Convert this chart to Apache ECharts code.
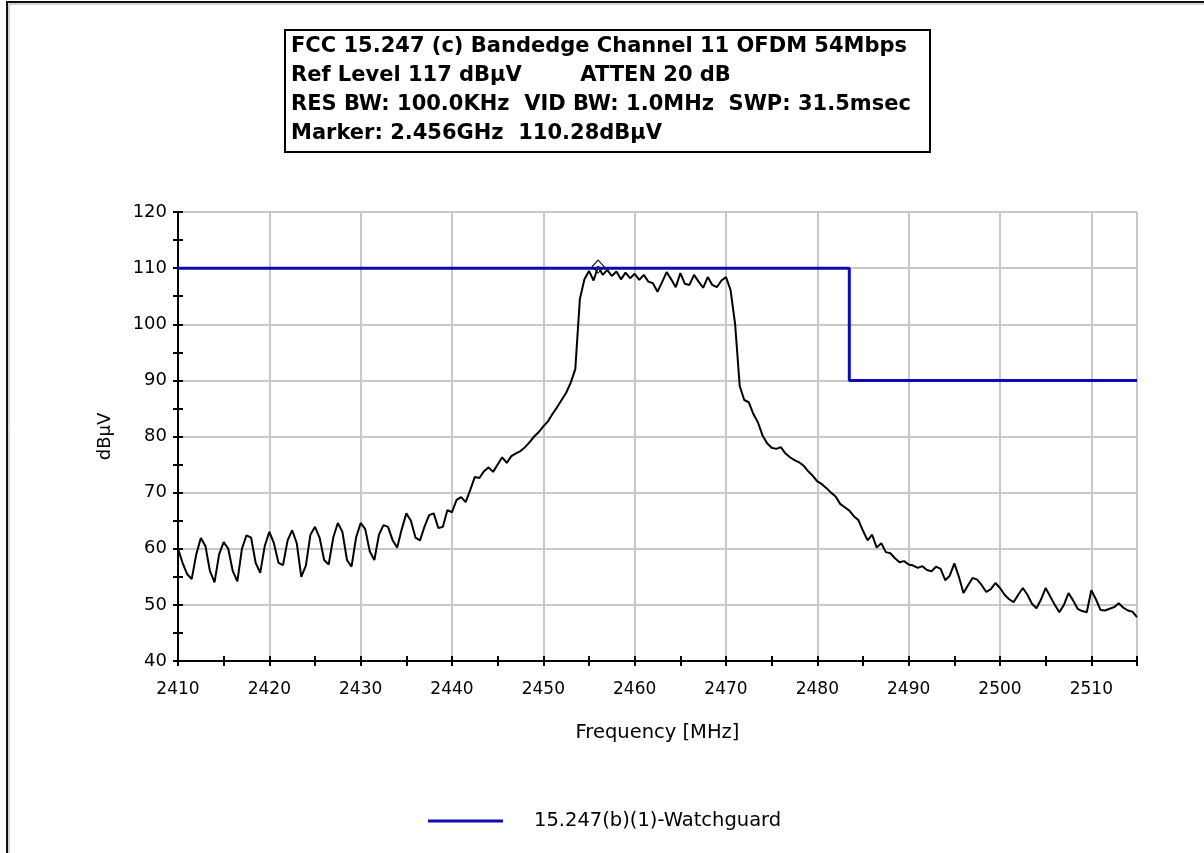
<!DOCTYPE html>
<html><head><meta charset="utf-8">
<script src="https://cdn.jsdelivr.net/npm/echarts@6/dist/echarts.min.js"></script>
<style>html,body{margin:0;padding:0;background:#fff}#c{width:1204px;height:853px}</style>
</head><body><div id="c"></div>
<script>
// ---- data ----
const TITLE_LINES = [
  'FCC 15.247 (c) Bandedge Channel 11 OFDM 54Mbps',
  'Ref Level 117 dB\u03bcV        ATTEN 20 dB',
  'RES BW: 100.0KHz  VID BW: 1.0MHz  SWP: 31.5msec',
  'Marker: 2.456GHz  110.28dB\u03bcV'
];
const X_NAME = 'Frequency [MHz]';
const Y_NAME = 'dB\u03bcV';
const X_MIN = 2410, X_MAX = 2515;
const Y_MIN = 40, Y_MAX = 120;
// sweep: start frequency and step (MHz) of the measured trace
const FREQ_START = 2410, FREQ_STEP = 0.5;
const TRACE_DBUV = [
  60.0, 57.5, 55.5, 54.6, 59.0, 61.9, 60.5, 56.0, 54.0, 59.0,
  61.2, 60.0, 56.0, 54.2, 60.0, 62.4, 62.0, 57.5, 55.7, 60.5,
  63.0, 61.0, 57.5, 57.1, 61.5, 63.3, 61.0, 55.0, 57.0, 62.5,
  63.9, 62.0, 58.0, 57.2, 62.0, 64.6, 63.0, 58.0, 56.8, 62.0,
  64.6, 63.5, 59.5, 58.0, 62.5, 64.2, 63.9, 61.5, 60.2, 63.5,
  66.3, 65.0, 62.0, 61.5, 64.0, 66.0, 66.3, 63.7, 63.9, 66.9,
  66.5, 68.7, 69.2, 68.3, 70.5, 72.8, 72.6, 73.8, 74.5, 73.7,
  75.0, 76.3, 75.3, 76.5, 77.0, 77.4, 78.1, 79.0, 80.0, 80.8,
  81.8, 82.7, 84.0, 85.2, 86.5, 87.8, 89.6, 92.0, 104.5, 108.0,
  109.5, 107.8, 110.3, 108.8, 109.7, 108.6, 109.4, 108.0, 109.2, 108.2,
  109.0, 107.9, 108.8, 107.6, 107.3, 105.8, 107.5, 109.3, 108.0, 106.6,
  109.1, 107.2, 107.0, 108.8, 107.6, 106.5, 108.4, 107.0, 106.6, 107.8,
  108.4, 106.1, 100.0, 89.0, 86.5, 86.1, 84.0, 82.5, 80.2, 78.8,
  78.0, 77.8, 78.1, 77.0, 76.3, 75.8, 75.4, 74.8, 73.8, 73.0,
  72.0, 71.5, 70.8, 70.0, 69.3, 68.0, 67.4, 66.8, 65.8, 65.1,
  63.2, 61.5, 62.5, 60.2, 61.0, 59.4, 59.2, 58.3, 57.6, 57.8,
  57.2, 57.0, 56.6, 56.9, 56.2, 56.0, 56.8, 56.4, 54.4, 55.2,
  57.4, 55.0, 52.1, 53.5, 54.8, 54.5, 53.5, 52.3, 52.8, 53.9,
  53.0, 51.8, 51.0, 50.5, 51.8, 53.0, 51.8, 50.2, 49.4, 51.0,
  53.0, 51.5, 50.0, 48.7, 50.0, 52.1, 50.8, 49.3, 48.9, 48.7,
  52.6, 51.0, 49.1, 49.0, 49.3, 49.6, 50.3, 49.5, 49.0, 48.8,
  47.8
];
const LIMIT_NAME = '15.247(b)(1)-Watchguard';
const LIMIT_FREQ = [2410, 2483.5, 2483.5, 2515];
const LIMIT_DBUV = [110, 110, 90, 90];
const MARKER_FREQ = 2456, MARKER_DBUV = 110.28;

// ---- build ----
const traceData = TRACE_DBUV.map((v, i) => [FREQ_START + i * FREQ_STEP, v]);
const limitData = LIMIT_FREQ.map((f, i) => [f, LIMIT_DBUV[i]]);
const FONT = '"DejaVu Sans", sans-serif';
const LIMIT_COLOR = '#0c0cb0';

function tickAxis(min, max, inside) {
  return {
    type: 'value', min: min, max: max, interval: 5,
    axisLine: { show: false }, axisLabel: { show: false }, splitLine: { show: false },
    axisTick: { show: true, inside: inside, length: 5, lineStyle: { color: '#000', width: 2 } }
  };
}

const chart = echarts.init(document.getElementById('c'), null, { renderer: 'canvas' });
chart.setOption({
  animation: false,
  backgroundColor: '#fff',
  grid: { left: 178, right: 67, top: 212, bottom: 192, show: true, borderColor: '#000', borderWidth: 1, backgroundColor: '#fff' },
  xAxis: [
    {
      type: 'value', min: X_MIN, max: X_MAX, interval: 10, position: 'bottom',
      axisLine: { lineStyle: { color: '#000', width: 2 } },
      axisTick: { show: false },
      axisLabel: { color: '#000', fontFamily: FONT, fontSize: 17, margin: 20, showMaxLabel: false,
                   formatter: v => String(v) },
      splitLine: { lineStyle: { color: '#c8c8c8', width: 2 } },
      name: X_NAME, nameLocation: 'middle', nameGap: 62,
      nameTextStyle: { color: '#000', fontFamily: FONT, fontSize: 19.5 }
    },
    Object.assign(tickAxis(X_MIN, X_MAX, false), { position: 'bottom' }),
    Object.assign(tickAxis(X_MIN, X_MAX, true), { position: 'bottom' })
  ],
  yAxis: [
    {
      type: 'value', min: Y_MIN, max: Y_MAX, interval: 10, position: 'left',
      axisLine: { show: true, lineStyle: { color: '#000', width: 2 } },
      axisTick: { show: false },
      axisLabel: { color: '#000', fontFamily: FONT, fontSize: 18, margin: 11 },
      splitLine: { lineStyle: { color: '#c8c8c8', width: 2 } },
      name: Y_NAME, nameLocation: 'middle', nameGap: 64, nameRotate: 90,
      nameTextStyle: { color: '#000', fontFamily: FONT, fontSize: 18 }
    },
    Object.assign(tickAxis(Y_MIN, Y_MAX, false), { position: 'left' }),
    Object.assign(tickAxis(Y_MIN, Y_MAX, true), { position: 'left' })
  ],
  legend: {
    data: [{ name: LIMIT_NAME, icon: 'rect' }], left: 423, top: 806, itemWidth: 75, itemHeight: 3,
    itemStyle: { color: LIMIT_COLOR },
    textStyle: { color: '#000', fontFamily: FONT, fontSize: 19.5, padding: [0, 0, 0, 26] }
  },
  series: [
    {
      name: 'Trace', type: 'line', data: traceData, symbol: 'none',
      lineStyle: { color: '#000', width: 2 }, itemStyle: { color: '#000' },
      markPoint: {
        symbol: 'diamond', symbolSize: [12, 13],
        itemStyle: { color: 'rgba(255,255,255,0)', borderColor: '#000', borderWidth: 1 },
        label: { show: false },
        data: [{ coord: [MARKER_FREQ, MARKER_DBUV] }]
      }
    },
    {
      name: LIMIT_NAME, type: 'line', data: limitData, symbol: 'none',
      lineStyle: { color: LIMIT_COLOR, width: 3 }, itemStyle: { color: LIMIT_COLOR }
    }
  ],
  graphic: [
    { type: 'polyline', shape: { points: [[7, 853], [7, 2], [1204, 2]] }, style: { stroke: '#111', lineWidth: 2, fill: null } },
    { type: 'polyline', shape: { points: [[9, 853], [9, 4], [1204, 4]] }, style: { stroke: '#aaa', lineWidth: 1, fill: null } },
    { type: 'rect', shape: { x: 285, y: 30, width: 645, height: 122 }, style: { fill: '#fff', stroke: '#000', lineWidth: 2 } }
  ].concat(TITLE_LINES.map((t, i) => ({
    type: 'text', x: 291, y: 47 + i * 28.7,
    style: { text: t, fill: '#000', font: 'bold 21px "DejaVu Sans"', verticalAlign: 'middle', align: 'left' }
  })))
});
</script></body></html>
